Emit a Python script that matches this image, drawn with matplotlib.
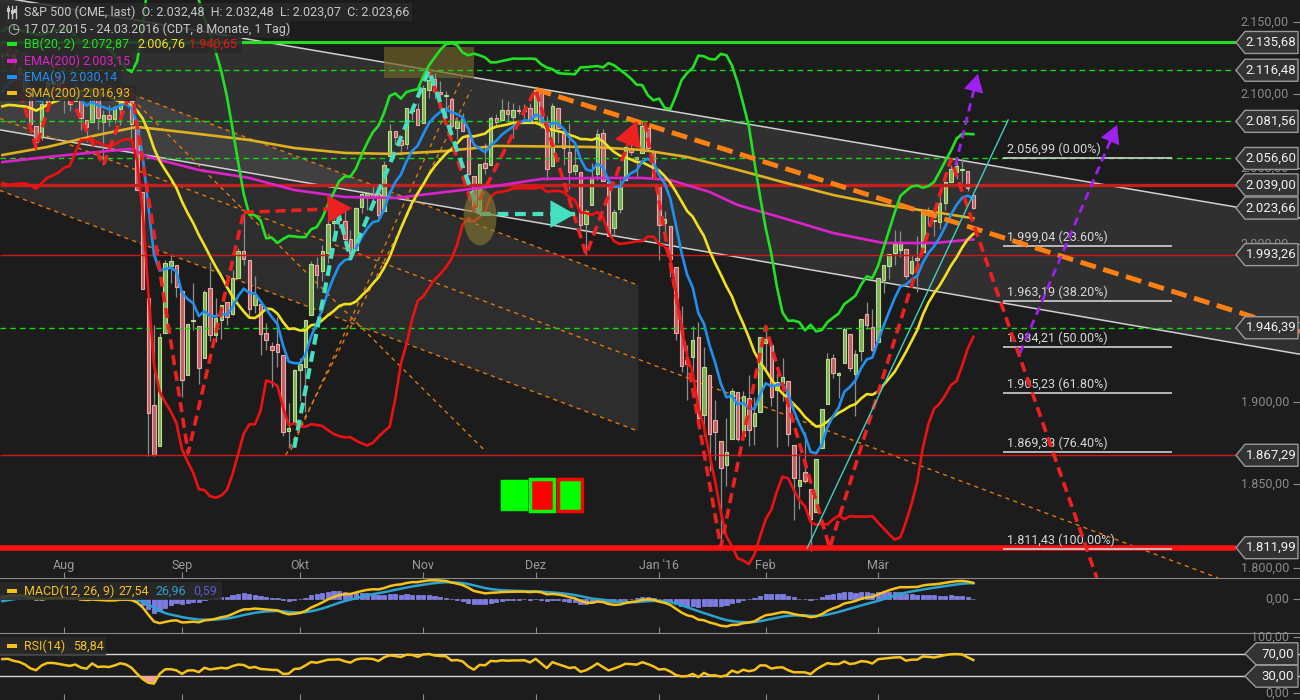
import numpy as np
import pandas as pd
import matplotlib
matplotlib.use('Agg')
import matplotlib.pyplot as plt
from matplotlib.patches import Rectangle, Ellipse, Polygon
from matplotlib.lines import Line2D
from matplotlib.transforms import ScaledTranslation, blended_transform_factory

plt.rcParams['font.family'] = ['Roboto', 'DejaVu Sans']

BG = '#1c1c1c'

# ---------------- data ----------------
holidays = ['2015-05-25', '2015-07-03', '2015-09-07', '2015-11-26', '2015-12-25',
            '2016-01-01', '2016-01-18', '2016-02-15']

# closes before the visible range (indicator warm-up), 01.05.2015 - 16.07.2015
warmup_close = [2108.29, 2114.49, 2089.46, 2080.15, 2088.00, 2116.10, 2105.33, 2099.12, 2098.48, 2121.10,
                2122.73, 2129.20, 2127.83, 2125.85, 2130.82, 2126.06, 2104.20, 2123.48, 2120.79, 2107.39,
                2111.73, 2109.60, 2114.07, 2095.84, 2092.83, 2079.28, 2080.15, 2105.20, 2108.86, 2094.11,
                2084.43, 2096.29, 2100.44, 2121.24, 2109.99, 2122.85, 2124.20, 2108.58, 2102.31, 2101.49,
                2057.64, 2063.11,
                2077.42, 2076.78, 2068.76, 2081.34, 2046.68, 2051.31, 2076.62, 2099.60, 2108.95, 2107.40,
                2124.29]

opens = [
    # Jul
    2126.80, 2126.85, 2127.55, 2118.21, 2114.16, 2102.24, 2078.19, 2070.75, 2094.70, 2106.78, 2111.60,
    # Aug
    2104.49, 2097.68, 2095.27, 2100.08, 2082.61, 2080.98, 2102.66, 2081.10, 2086.19, 2083.15, 2089.70,
    2101.99, 2095.69, 2076.61, 2034.08, 1965.15, 1898.08, 1872.75, 1942.77, 1986.06, 1986.73,
    # Sep
    1970.09, 1916.52, 1950.79, 1947.76, 1927.30, 1971.45, 1941.59, 1951.45, 1963.06, 1955.10, 1978.02,
    1995.33, 1989.66, 1960.84, 1961.39, 1943.24, 1934.81, 1935.93, 1929.18, 1881.90, 1887.14,
    # Okt
    1919.65, 1921.77, 1954.33, 1986.63, 1982.34, 1994.01, 2013.73, 2015.65, 2015.00, 2003.66, 1996.47,
    2024.37, 2031.73, 2033.13, 2033.47, 2021.88, 2058.19, 2075.08, 2068.75, 2066.48, 2088.35, 2090.00,
    # Nov
    2080.76, 2102.63, 2110.60, 2101.68, 2098.60, 2096.56, 2077.19, 2083.41, 2072.29, 2044.64, 2022.08,
    2053.67, 2051.99, 2083.70, 2082.82, 2089.41, 2084.42, 2089.30, 2088.82, 2090.95,
    # Dez
    2082.93, 2101.71, 2080.71, 2051.24, 2090.42, 2073.39, 2061.17, 2047.93, 2047.27, 2013.37, 2025.55,
    2046.50, 2073.76, 2040.81, 2010.27, 2023.15, 2042.20, 2063.52, 2057.77, 2060.54, 2077.34, 2060.59,
    # Jan
    2038.20, 2013.78, 2011.71, 1985.32, 1945.97, 1926.12, 1927.83, 1940.34, 1891.68, 1916.68, 1888.66,
    1876.18, 1861.46, 1877.40, 1906.28, 1878.79, 1902.52, 1885.22, 1894.00,
    # Feb
    1936.94, 1935.26, 1907.07, 1911.67, 1913.07, 1873.25, 1848.46, 1857.10, 1847.00, 1833.40, 1871.44,
    1898.80, 1927.57, 1916.74, 1924.44, 1942.38, 1917.56, 1931.87, 1954.95, 1947.13,
    # Mar
    1937.09, 1976.60, 1985.60, 1994.01, 1996.11, 1996.88, 1981.44, 1990.97, 1994.71, 2019.27, 2015.27,
    2014.24, 2026.90, 2041.16, 2047.88, 2048.64, 2048.55, 2032.48]

highs = [
    2128.91, 2132.82, 2128.49, 2121.06, 2116.87, 2106.01, 2078.19, 2095.60, 2110.60, 2110.48, 2114.24,
    2105.70, 2102.51, 2112.66, 2103.32, 2082.61, 2105.35, 2102.66, 2089.06, 2092.93, 2092.45, 2102.87,
    2103.47, 2095.69, 2076.61, 2034.08, 1965.15, 1948.04, 1943.09, 1989.60, 1993.48, 1986.73,
    1970.09, 1948.91, 1975.01, 1947.76, 1970.42, 1988.63, 1965.29, 1961.05, 1963.06, 1983.19, 1997.26,
    2020.86, 1989.66, 1979.64, 1961.39, 1949.52, 1937.17, 1952.89, 1929.18, 1899.48, 1920.53,
    1927.21, 1951.36, 1989.17, 1991.62, 1999.31, 2016.50, 2020.13, 2018.66, 2022.34, 2009.56, 2024.15,
    2033.54, 2034.45, 2039.12, 2037.97, 2055.20, 2079.74, 2075.14, 2070.37, 2090.35, 2092.52, 2094.32,
    2106.20, 2116.48, 2114.59, 2108.78, 2101.91, 2096.56, 2083.67, 2086.94, 2072.29, 2044.64, 2053.22,
    2066.69, 2085.31, 2086.74, 2097.06, 2095.61, 2094.12, 2093.00, 2093.29, 2093.81,
    2103.37, 2104.27, 2085.00, 2093.84, 2090.42, 2073.85, 2080.33, 2067.65, 2047.27, 2022.92, 2053.87,
    2076.72, 2076.37, 2040.81, 2022.90, 2042.74, 2064.73, 2067.36, 2057.77, 2081.56, 2077.34, 2062.54,
    2038.20, 2021.94, 2011.71, 1985.32, 1960.40, 1935.65, 1947.38, 1950.33, 1934.47, 1916.68, 1901.44,
    1876.18, 1889.85, 1908.85, 1906.28, 1906.73, 1916.99, 1902.96, 1940.24,
    1947.20, 1935.26, 1918.01, 1927.35, 1913.07, 1873.25, 1868.25, 1881.60, 1847.00, 1864.78, 1895.77,
    1930.68, 1930.00, 1918.78, 1946.70, 1942.38, 1932.08, 1951.83, 1962.96, 1958.27,
    1978.35, 1986.51, 1993.69, 2009.13, 2008.42, 1996.88, 1992.69, 2005.08, 2022.37, 2024.57, 2015.94,
    2032.02, 2046.24, 2052.36, 2053.91, 2056.60, 2048.55, 2032.48]

lows = [
    2119.88, 2123.66, 2115.40, 2110.19, 2098.63, 2077.09, 2063.52, 2069.09, 2094.08, 2094.97, 2102.07,
    2087.31, 2088.60, 2095.27, 2075.53, 2067.91, 2080.98, 2076.49, 2052.09, 2078.26, 2080.61, 2079.30,
    2094.14, 2069.09, 2035.73, 1970.89, 1867.01, 1867.08, 1872.75, 1942.77, 1975.19, 1965.98,
    1903.07, 1916.52, 1944.72, 1911.21, 1927.30, 1937.88, 1937.19, 1939.19, 1948.27, 1954.30, 1977.93,
    1986.73, 1953.45, 1955.80, 1929.22, 1932.57, 1908.92, 1921.50, 1879.21, 1871.91, 1887.14,
    1900.70, 1893.70, 1954.33, 1971.99, 1976.44, 1987.53, 2007.61, 2010.55, 2001.78, 1990.73, 1996.47,
    2020.46, 2022.31, 2026.61, 2017.22, 2021.88, 2058.19, 2066.53, 2058.84, 2063.11, 2082.63, 2079.34,
    2080.76, 2097.51, 2096.98, 2090.41, 2083.74, 2068.24, 2069.91, 2074.85, 2045.66, 2022.02, 2019.94,
    2045.90, 2051.99, 2078.76, 2082.82, 2081.39, 2070.29, 2086.30, 2084.13, 2080.41,
    2082.93, 2077.11, 2042.35, 2051.24, 2066.78, 2052.32, 2036.53, 2045.67, 2008.80, 1993.26, 2025.55,
    2042.43, 2041.66, 2005.33, 2005.93, 2020.49, 2042.20, 2058.73, 2044.20, 2060.54, 2061.97, 2043.62,
    1989.68, 2004.17, 1979.05, 1938.83, 1918.46, 1901.10, 1914.35, 1886.41, 1878.93, 1857.83, 1864.60,
    1812.29, 1848.98, 1877.40, 1875.97, 1878.79, 1872.70, 1873.65, 1894.00,
    1920.30, 1897.29, 1872.23, 1900.52, 1872.65, 1828.46, 1834.94, 1850.32, 1810.10, 1833.40, 1871.44,
    1898.80, 1915.09, 1902.17, 1924.44, 1919.44, 1891.00, 1925.41, 1945.78, 1931.81,
    1937.09, 1968.80, 1977.37, 1986.77, 1991.55, 1977.43, 1979.84, 1969.25, 1994.71, 2012.05, 2005.23,
    2010.04, 2022.16, 2041.16, 2043.14, 2040.57, 2034.86, 2023.07]

closes = [
    2126.64, 2128.28, 2119.21, 2114.15, 2102.15, 2079.65, 2067.64, 2093.25, 2108.57, 2108.63, 2103.84,
    2098.04, 2093.32, 2099.84, 2083.56, 2077.57, 2104.18, 2084.07, 2086.05, 2083.39, 2091.54, 2102.44,
    2096.92, 2079.61, 2035.73, 1970.89, 1893.21, 1867.61, 1940.51, 1987.66, 1988.87, 1972.18,
    1913.85, 1948.86, 1951.13, 1921.22, 1969.41, 1942.04, 1952.29, 1961.05, 1953.03, 1978.09, 1995.31,
    1990.20, 1958.03, 1966.97, 1942.74, 1938.76, 1932.24, 1931.34, 1881.77, 1884.09, 1920.03,
    1923.82, 1951.36, 1987.05, 1979.92, 1995.83, 2013.43, 2014.89, 2017.46, 2003.69, 1994.24, 2023.86,
    2033.11, 2033.66, 2030.77, 2018.94, 2052.51, 2075.15, 2071.18, 2065.89, 2090.35, 2089.41, 2079.36,
    2104.05, 2109.79, 2102.31, 2099.93, 2099.20, 2078.58, 2081.72, 2075.00, 2045.97, 2023.04, 2053.19,
    2050.44, 2083.58, 2081.24, 2089.17, 2086.59, 2089.14, 2088.87, 2090.11, 2080.41,
    2102.63, 2079.51, 2049.62, 2091.69, 2077.07, 2063.59, 2047.62, 2052.23, 2012.37, 2021.94, 2043.41,
    2073.07, 2041.89, 2005.55, 2021.15, 2038.97, 2064.29, 2060.99, 2056.50, 2078.36, 2063.36, 2043.94,
    2012.66, 2016.71, 1990.26, 1943.09, 1922.03, 1923.67, 1938.68, 1890.28, 1921.84, 1880.33, 1881.33,
    1859.33, 1868.99, 1906.90, 1877.08, 1903.63, 1882.95, 1893.36, 1940.24,
    1939.38, 1903.03, 1912.53, 1915.45, 1880.05, 1853.44, 1852.21, 1851.86, 1829.08, 1864.78, 1895.58,
    1926.82, 1917.83, 1917.78, 1945.50, 1921.27, 1929.80, 1951.70, 1948.05, 1932.23,
    1978.35, 1986.45, 1993.40, 1999.99, 2001.76, 1979.26, 1989.26, 1989.57, 2022.19, 2019.64, 2015.93,
    2027.22, 2040.59, 2049.58, 2051.60, 2049.80, 2036.71, 2023.66]

# long averages (day index, value)
sma200_idx = [0, 8, 17, 24, 32, 44, 52, 61, 70, 79, 88, 105, 114, 122, 131, 139, 148, 157, 166, 173]
sma200_val = [2058.9, 2064.3, 2072.4, 2077.8, 2074.4, 2069.0, 2063.6, 2060.3, 2059.6, 2061.6, 2065.0,
              2064.3, 2062.3, 2057.6, 2049.0, 2040.9, 2032.3, 2025.7, 2021.1, 2016.93]
ema200_idx = [0, 8, 17, 23, 26, 35, 44, 52, 61, 70, 79, 88, 96, 105, 114, 119, 126, 131, 139, 148, 157, 166, 173]
ema200_val = [2054.2, 2057.6, 2060.9, 2063.0, 2057.6, 2048.9, 2043.6, 2035.6, 2031.0, 2030.3, 2034.3,
              2038.3, 2042.9, 2043.6, 2043.6, 2042.2, 2034.3, 2025.7, 2017.2, 2007.3, 2000.8, 2000.8, 2003.15]

month_labels = ['Aug', 'Sep', 'Okt', 'Nov', 'Dez', "Jan '16", 'Feb', 'Mär']

# horizontal levels: price, color, width, style
level_price = [2135.68, 2116.48, 2081.56, 2056.60, 2039.00, 1993.26, 1946.39, 1867.29, 1811.99]
level_color = ['#22dd22', '#11dd11', '#11dd11', '#11dd11', '#c42020', '#d01818', '#11dd11', '#d01818', '#ff1010']
level_width = [2.2, 1.0, 1.0, 1.0, 2.4, 1.0, 1.0, 1.0, 4.0]
level_style = ['-', '--', '--', '--', '-', '-', '--', '-', '-']
last_price = 2023.66

fib_prices = [2056.99, 1999.04, 1963.19, 1934.21, 1905.23, 1869.38, 1811.43]
fib_pcts = ['0.00%', '23.60%', '38.20%', '50.00%', '61.80%', '76.40%', '100.00%']

price_ticks = [2150, 2100, 2050, 2000, 1950, 1900, 1850, 1800]

# drawings (day index, price)
chan_x = [-1, 232]
chan_upper = [2167.9, 2016.7]
chan_lower = [2076.2, 1929.2]
box_x = [-0.5, 113.3]
box_top = [2134.4, 1973.5]
box_bottom = [2035.4, 1882.0]
mid_line = [(-0.5, 2083.6), (216.6, 1794.2)]
fan_lines = [[(21.0, 2105.0), (86.2, 1869.3)],
             [(51.4, 1870.5), (82.1, 2113.2)],
             [(50.5, 1867.4), (83.5, 2103.0)]]
orange_trend = [(95, 2103.37), (113, 2081.56)]
red_zig1 = [(1, 2132.82), (6, 2063.52), (10, 2114.24), (18, 2052.09), (23, 2103.47), (33.1, 1868.7), (43, 2020.86)]
red_arrow1 = [(43, 2020.86), (62.3, 2023.7)]
red_zig2 = [(76, 2116.48), (84, 2022.02), (95, 2103.37), (104, 1993.26), (113, 2081.56)]
red_zig3 = [(114.5, 2081.0), (128, 1812.29), (136, 1947.2), (147.4, 1811.8), (169, 2056.0), (195, 1794.2)]
cyan_zig = [(52, 1871.91), (60, 2018.66), (62, 1990.73), (76, 2116.48), (85, 2019.7)]
cyan_arrow = [(85.1, 2019.7), (102.0, 2019.7)]
purple_a = [(181.3, 1930.4), (198.6, 2079.1)]
purple_b = [(169.8, 2052.0), (173.8, 2114.0)]
thin_trend = [(143.4, 1811.8), (179.2, 2082.5)]
olive_box = (68.0, 2111.2, 84.0, 2132.6)
olive_ellipse = (85.1, 2017.8)
squares_x = [(89.0, 93.3), (94.0, 98.3), (99.0, 103.3)]
squares_y = [(1834.9, 1851.7), (1833.7, 1852.9), (1833.7, 1852.9)]
squares_fc = ['#00ff00', '#ff0000', '#00ff00']
squares_ec = ['#00ff00', '#00ff00', '#ff0000']


def de(v, nd=2):
    s = f'{v:,.{nd}f}'
    return s.replace(',', 'X').replace('.', ',').replace('X', '.')


# ---------------- indicators ----------------
s = pd.Series(warmup_close + closes)
n0 = len(warmup_close)
ema9 = s.ewm(span=9, adjust=False).mean().values[n0:]
bb_mid = s.rolling(20).mean()
bb_sd = s.rolling(20).std(ddof=1)
bb_up = (bb_mid + 2 * bb_sd).values[n0:]
bb_lo = (bb_mid - 2 * bb_sd).values[n0:]
bb_mid = bb_mid.values[n0:]
macd = s.ewm(span=12, adjust=False).mean() - s.ewm(span=26, adjust=False).mean()
sig = macd.ewm(span=9, adjust=False).mean()
hist = (macd - sig).values[n0:]
macd = macd.values[n0:]
sig = sig.values[n0:]
d = s.diff()
ag = d.clip(lower=0).ewm(alpha=1 / 14, adjust=False).mean()
al = (-d.clip(upper=0)).ewm(alpha=1 / 14, adjust=False).mean()
rsi = (100 - 100 / (1 + ag / al)).values[n0:]

all_dates = pd.bdate_range('2015-05-01', '2016-03-24', freq='C', holidays=holidays)
dates = all_dates[n0:]
month_idx = [i for i in range(1, len(dates)) if dates[i].month != dates[i - 1].month]

o = np.array(opens); h = np.array(highs); l = np.array(lows); c = np.array(closes)
x = np.arange(len(c))

# ---------------- figure ----------------
fig = plt.figure(figsize=(13, 7), dpi=100, facecolor=BG)
ax = fig.add_axes([0, 1 - 578 / 700, 1, 578 / 700])
axm = fig.add_axes([0, 1 - 633 / 700, 1, 55 / 700])
axr = fig.add_axes([0, 0, 1, 67 / 700])

for a in (ax, axm, axr):
    a.set_facecolor(BG)
    a.set_xlim(-0.43, 231.2)
    for sp in a.spines.values():
        sp.set_visible(False)
    a.set_xticks(month_idx)
    a.tick_params(axis='x', direction='in', length=4, color='#8a8a8a', labelbottom=False)
    a.yaxis.set_ticks_position('right')
    a.tick_params(axis='y', direction='in', length=5, color='#8a8a8a', labelright=False, labelleft=False)
for a in (axm, axr):
    a.spines['top'].set_visible(True)
    a.spines['top'].set_color('#8a8a8a')

ax.set_yscale('log')
ax.set_ylim(1794.2, 2165.4)
ax.minorticks_off()
ax.set_yticks(price_ticks)

ry = blended_transform_factory(ax.transAxes, ax.transData)
for p in price_ticks:
    ax.text(0.9915, p, de(p), transform=ry, ha='right', va='center', color='#8a8a8a', fontsize=9, zorder=6)
for i, lab in zip(month_idx, month_labels):
    ax.text(i, 0.021, lab, transform=blended_transform_factory(ax.transData, ax.transAxes),
            ha='center', va='center', color='#9a9a9a', fontsize=9)

# channels / shaded areas
ax.add_patch(Polygon([(chan_x[0], chan_upper[0]), (chan_x[1], chan_upper[1]),
                      (chan_x[1], chan_lower[1]), (chan_x[0], chan_lower[0])],
                     closed=True, fc='#ffffff', alpha=0.09, lw=0, zorder=0.5))
ax.add_patch(Polygon([(box_x[0], box_top[0]), (box_x[1], box_top[1]),
                      (box_x[1], box_bottom[1]), (box_x[0], box_bottom[0])],
                     closed=True, fc='#ffffff', alpha=0.08, lw=0, zorder=0.5))
ax.plot(chan_x, chan_upper, color='#d0d0d0', lw=1.1, zorder=1)
ax.plot(chan_x, chan_lower, color='#d0d0d0', lw=1.1, zorder=1)
ax.add_patch(Rectangle((olive_box[0], olive_box[1]), olive_box[2] - olive_box[0], olive_box[3] - olive_box[1],
                       fc='#6b6128', alpha=0.7, lw=0, zorder=1.5))

orange_thin = dict(color='#e07810', lw=1.0, ls=(0, (3, 3)), zorder=1.2)
ax.plot(box_x, box_top, **orange_thin)
ax.plot(box_x, box_bottom, **orange_thin)
ax.plot(*zip(*mid_line), **orange_thin)
for fl in fan_lines:
    ax.plot(*zip(*fl), **orange_thin)

# candles
up = c >= o
ax.vlines(x, l, h, color='#8c8c8c', lw=0.9, zorder=2)
blo = np.minimum(o, c); bhi = np.maximum(o, c)
ax.bar(x[up], bhi[up] - blo[up], bottom=blo[up], width=0.62, color='#80ad5a', edgecolor='#b6e08c', lw=0.8, zorder=2.5)
ax.bar(x[~up], bhi[~up] - blo[~up], bottom=blo[~up], width=0.62, color='#b86464', edgecolor='#f0a8a8', lw=0.8, zorder=2.5)

# horizontal levels
for p, col, w, st in zip(level_price, level_color, level_width, level_style):
    ax.hlines(p, -0.43, 219.8, colors=col, lw=w, linestyles=st if st == '-' else (0, (4, 3)), zorder=3)

# indicators
ax.plot(sma200_idx, sma200_val, color='#e0b020', lw=1.9, zorder=4)
ax.plot(ema200_idx, ema200_val, color='#dd22cc', lw=1.9, zorder=4)
ax.plot(x, bb_mid, color='#f0e020', lw=1.9, zorder=4)
ax.plot(x, bb_up, color='#22e022', lw=1.9, zorder=4)
ax.plot(x, bb_lo, color='#ee1111', lw=1.9, zorder=4)
ax.plot(x, ema9, color='#2090f0', lw=1.9, zorder=4)

# fib
for p, pct in zip(fib_prices, fib_pcts):
    ax.hlines(p, 178.3, 208.4, colors='#d0d0d0', lw=1.2, zorder=5)
    ax.annotate(f'{de(p)} ({pct})', xy=(179.0, p), xytext=(0, 2), textcoords='offset pixels',
                ha='left', va='bottom', color='#d8d8d8', fontsize=9, zorder=5)

# trend drawings
k = np.log(orange_trend[1][1] / orange_trend[0][1]) / (orange_trend[1][0] - orange_trend[0][0])
ot_x = [orange_trend[0][0], 231.2]
ax.plot(ot_x, [orange_trend[0][1], orange_trend[0][1] * np.exp(k * (ot_x[1] - orange_trend[0][0]))],
        color='#ff8010', lw=3.5, ls=(0, (3.3, 1.6)), zorder=6)

red_dash = dict(color='#ee2020', lw=2.6, ls=(0, (2.8, 1.6)), zorder=6)
for zz in (red_zig1, red_zig2, red_zig3, red_arrow1):
    ax.plot(*zip(*zz), **red_dash)
ax.plot(*zip(*cyan_zig), color='#45e0c0', lw=3.0, ls=(0, (2.6, 1.6)), zorder=6)
ax.plot(*zip(*cyan_arrow), color='#45e0c0', lw=3.0, ls=(0, (2.6, 1.6)), zorder=6)
ax.plot(*zip(*purple_a), color='#a020f0', lw=2.0, ls=(0, (3, 2)), zorder=6)
ax.plot(*zip(*purple_b), color='#a020f0', lw=2.0, ls=(0, (3, 2)), zorder=6)
ax.plot(*zip(*thin_trend), color='#40d0c0', lw=1.0, zorder=6)


def head(p0, p1, color, ms):
    ax.annotate('', xy=p1, xytext=p0,
                arrowprops=dict(arrowstyle='-|>,head_length=0.8,head_width=0.45', fc=color, ec=color,
                                lw=0, shrinkA=0, shrinkB=0, mutation_scale=ms), zorder=7)


head(red_arrow1[0], red_arrow1[1], '#ee2020', 22)
head(red_zig2[-2], red_zig2[-1], '#ee2020', 22)
head(cyan_arrow[0], cyan_arrow[1], '#45e0c0', 22)
head(purple_a[0], purple_a[1], '#a020f0', 16)
head(purple_b[0], purple_b[1], '#a020f0', 16)

ax.add_patch(Ellipse((0, 0), 0.33, 0.57, transform=fig.dpi_scale_trans + ScaledTranslation(*olive_ellipse, ax.transData),
                     fc='#8a7a30', alpha=0.6, lw=0, zorder=7))

for (x0, x1), (y0, y1), fc, ec in zip(squares_x, squares_y, squares_fc, squares_ec):
    ax.add_patch(Rectangle((x0, y0), x1 - x0, y1 - y0, fc=fc, ec=ec, lw=2.5, zorder=7))


# price tags on the right
def tag(a, price, text, left=0.64, shoulder=0.55, tx=-29):
    tr = fig.dpi_scale_trans + ScaledTranslation(1.0, price, blended_transform_factory(a.transAxes, a.transData))
    a.add_patch(Polygon([(-left, 0), (-shoulder, 0.11), (-0.02, 0.11), (-0.02, -0.11), (-shoulder, -0.11)],
                        closed=True, transform=tr, fc='#333333', ec='#9a9a9a', lw=1, zorder=20, clip_on=False))
    a.annotate(text, xy=(1.0, price), xycoords=blended_transform_factory(a.transAxes, a.transData),
               xytext=(tx, 0), textcoords='offset pixels', ha='center', va='center',
               color='#f2f2f2', fontsize=9.5, zorder=21)


for p in level_price + [last_price]:
    tag(ax, p, de(p))

# MACD panel
axm.set_ylim(-59, 36)
axm.set_yticks([0])
axm.bar(x, hist, width=0.75, color='#7b7bee', edgecolor='#9a9af5', lw=0.4, zorder=2)
axm.plot(x, sig, color='#2aa3cf', lw=1.8, zorder=3)
axm.plot(x, macd, color='#f6c21a', lw=1.8, zorder=4)
axm.text(0.9915, 0, '0,00', transform=blended_transform_factory(axm.transAxes, axm.transData),
         ha='right', va='center', color='#8a8a8a', fontsize=9)

# RSI panel
axr.set_ylim(-12.5, 107.1)
axr.set_yticks([0, 100])
axr.axhline(70, color='#d8d8d8', lw=1, zorder=2)
axr.axhline(30, color='#d8d8d8', lw=1, zorder=2)
axr.fill_between(x, rsi, 30, where=rsi < 30, interpolate=True, color='#f0a0a0', lw=0, zorder=2)
axr.fill_between(x, rsi, 70, where=rsi > 70, interpolate=True, color='#a0e0a0', lw=0, zorder=2)
axr.plot(x, rsi, color='#f6c21a', lw=1.8, zorder=3)
rr = blended_transform_factory(axr.transAxes, axr.transData)
for v in (100, 0):
    axr.text(0.9915, v, de(v), transform=rr, ha='right', va='center', color='#8a8a8a', fontsize=9)
for v in (70, 30):
    tag(axr, v, de(v), left=0.55, shoulder=0.44, tx=-22)


# legends / header
def fx(px):
    return px / 1300


def fy(py):
    return 1 - py / 700


def row_bg(y0, y1, w):
    fig.add_artist(Rectangle((0, fy(y1)), fx(w), (y1 - y0) / 700, transform=fig.transFigure,
                             fc='#2a2a2a', alpha=0.85, lw=0))


def mark(y, col):
    fig.add_artist(Rectangle((fx(7), fy(y + 2)), fx(10), 4 / 700, transform=fig.transFigure, fc=col, lw=0))


def txt(px, py, s_, col):
    fig.text(fx(px), fy(py), s_, color=col, fontsize=9, ha='left', va='center')


row_bg(3, 21, 412)
row_bg(21, 38, 290)
row_bg(36, 53, 242)
row_bg(53, 69, 133)
row_bg(69, 85, 122)
row_bg(85, 101, 136)
row_bg(582, 600, 222)
row_bg(637, 655, 106)

for bx in (8, 12, 16):
    fig.add_artist(Line2D([fx(bx), fx(bx)], [fy(18), fy(6)], color='#c8c8c8', lw=1))
    fig.add_artist(Rectangle((fx(bx - 1.5), fy(14 - (bx % 3))), fx(3), 4 / 700, transform=fig.transFigure,
                             fc='#c8c8c8', lw=0))
txt(24, 12, 'S&P 500 (CME, last)  O: 2.032,48  H: 2.032,48  L: 2.023,07  C: 2.023,66', '#c8c8c8')
fig.text(fx(7), fy(29), '◷', color='#c8c8c8', fontsize=10, ha='left', va='center', family='DejaVu Sans')
txt(24, 29, '17.07.2015 - 24.03.2016 (CDT, 8 Monate, 1 Tag)', '#c8c8c8')

mark(44, '#22e022')
txt(24, 44, 'BB(20, 2)', '#22e022')
txt(81, 44, de(bb_up[-1]), '#22e022')
txt(137, 44, de(bb_mid[-1]), '#f0e020')
txt(189, 44, de(bb_lo[-1]), '#ee1111')
mark(61, '#dd22cc')
txt(24, 61, 'EMA(200)', '#dd22cc')
txt(82, 61, de(ema200_val[-1]), '#dd22cc')
mark(77, '#2090f0')
txt(24, 77, 'EMA(9)', '#2090f0')
txt(69, 77, de(ema9[-1]), '#2090f0')
mark(93, '#f0b818')
txt(24, 93, 'SMA(200)', '#f0b818')
txt(82, 93, de(sma200_val[-1]), '#f0b818')

mark(591, '#f6c21a')
txt(24, 591, 'MACD(12, 26, 9)', '#f6c21a')
txt(118, 591, de(macd[-1]), '#f6c21a')
txt(155, 591, de(sig[-1]), '#2aa3cf')
txt(193, 591, de(hist[-1]), '#5a5ad0')
mark(646, '#f6c21a')
txt(24, 646, 'RSI(14)', '#f6c21a')
txt(73, 646, de(rsi[-1]), '#f6c21a')

fig.savefig('out.png', dpi=100, facecolor=BG)
